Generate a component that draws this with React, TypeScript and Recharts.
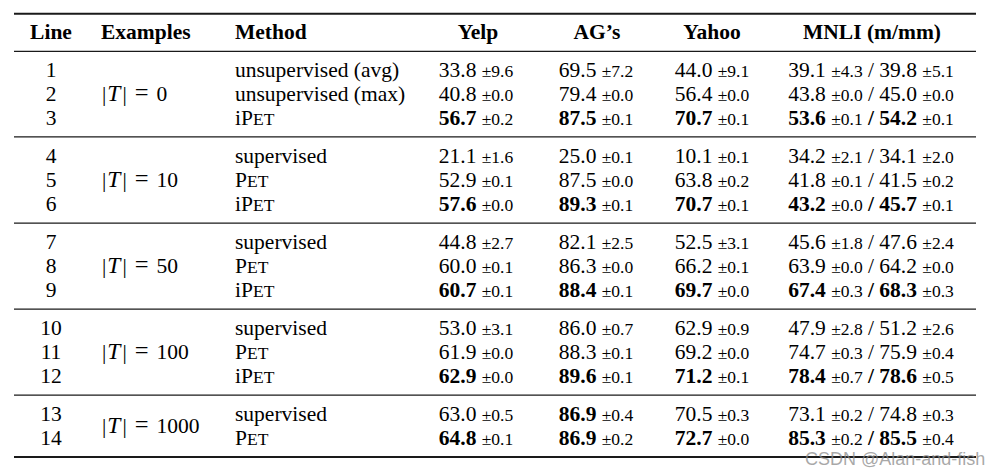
import React from 'react';
import { ScatterChart, Scatter, XAxis, YAxis, ReferenceLine } from 'recharts';

// ---------- data ----------
const lineNumbers = [1, 2, 3, 4, 5, 6, 7, 8, 9, 10, 11, 12, 13, 14];
const groupLabels = ['0', '10', '50', '100', '1000'];
const groupSizes = [3, 3, 3, 3, 2];
const methods = [
  'unsupervised (avg)', 'unsupervised (max)', 'iPET',
  'supervised', 'PET', 'iPET',
  'supervised', 'PET', 'iPET',
  'supervised', 'PET', 'iPET',
  'supervised', 'PET',
];
const headers = ['Line', 'Examples', 'Method', 'Yelp', 'AG\u2019s', 'Yahoo', 'MNLI (m/mm)'];

const yelpMean = [33.8, 40.8, 56.7, 21.1, 52.9, 57.6, 44.8, 60.0, 60.7, 53.0, 61.9, 62.9, 63.0, 64.8];
const yelpStd = [9.6, 0.0, 0.2, 1.6, 0.1, 0.0, 2.7, 0.1, 0.1, 3.1, 0.0, 0.0, 0.5, 0.1];
const agMean = [69.5, 79.4, 87.5, 25.0, 87.5, 89.3, 82.1, 86.3, 88.4, 86.0, 88.3, 89.6, 86.9, 86.9];
const agStd = [7.2, 0.0, 0.1, 0.1, 0.0, 0.1, 2.5, 0.0, 0.1, 0.7, 0.1, 0.1, 0.4, 0.2];
const yahooMean = [44.0, 56.4, 70.7, 10.1, 63.8, 70.7, 52.5, 66.2, 69.7, 62.9, 69.2, 71.2, 70.5, 72.7];
const yahooStd = [9.1, 0.0, 0.1, 0.1, 0.2, 0.1, 3.1, 0.1, 0.0, 0.9, 0.0, 0.1, 0.3, 0.0];
const mnliMMean = [39.1, 43.8, 53.6, 34.2, 41.8, 43.2, 45.6, 63.9, 67.4, 47.9, 74.7, 78.4, 73.1, 85.3];
const mnliMStd = [4.3, 0.0, 0.1, 2.1, 0.1, 0.0, 1.8, 0.0, 0.3, 2.8, 0.3, 0.7, 0.2, 0.2];
const mnliMMMean = [39.8, 45.0, 54.2, 34.1, 41.5, 45.7, 47.6, 64.2, 68.3, 51.2, 75.9, 78.6, 74.8, 85.5];
const mnliMMStd = [5.1, 0.0, 0.1, 2.0, 0.2, 0.1, 2.4, 0.0, 0.3, 2.6, 0.4, 0.5, 0.3, 0.4];

const yelpBest = [0, 0, 1, 0, 0, 1, 0, 0, 1, 0, 0, 1, 0, 1];
const agBest = [0, 0, 1, 0, 0, 1, 0, 0, 1, 0, 0, 1, 1, 1];
const yahooBest = [0, 0, 1, 0, 0, 1, 0, 0, 1, 0, 0, 1, 0, 1];
const mnliBest = [0, 0, 1, 0, 0, 1, 0, 0, 1, 0, 0, 1, 0, 1];

// ---------- layout ----------
const W = 999;
const H = 473;
const ROW_PITCH = 24.2;
const HEADER_Y_PX = 32;
const HEADER_TO_BODY = 1.557;
const GROUP_GAP = 0.557;
const Y_MIN = -HEADER_Y_PX / ROW_PITCH;
const Y_MAX = Y_MIN + H / ROW_PITCH;
const COL_X = { line: 51, examples: 102, method: 235, yelp: 476, ag: 596, yahoo: 712, mnli: 871 };
const RULE_X = [14, 976];
const FONT = '"Liberation Serif", "Times New Roman", serif';
const FS = 21.5;
const FS_SMALL = 17.5;
const BASE_SHIFT = 7;

const rowGroup: number[] = [];
groupSizes.forEach((n, g) => { for (let k = 0; k < n; k++) rowGroup.push(g); });
const rowPos = lineNumbers.map((_, i) => HEADER_TO_BODY + i + rowGroup[i] * GROUP_GAP);
const groupPos = groupSizes.map((_, g) => {
  const ps = rowPos.filter((_, i) => rowGroup[i] === g);
  return ps.reduce((a, b) => a + b, 0) / ps.length;
});
const groupLast = groupSizes.map((_, g) => {
  const ps = rowPos.filter((_, i) => rowGroup[i] === g);
  return ps[ps.length - 1];
});
const RULE_OFFSET = 0.78;
const rules = [
  { y: -0.75, w: 2 },
  { y: 0.8, w: 1.2 },
  ...groupLast.map((p, g) => ({ y: p + RULE_OFFSET, w: g === groupLast.length - 1 ? 2 : 1.2 })),
];

const f1 = (v: number) => v.toFixed(1);
const NB = '\u00A0';

// ---------- renderers ----------
const headerAnchor = ['middle', 'start', 'start', 'middle', 'middle', 'middle', 'middle'];
const headerX = [COL_X.line, COL_X.examples - 1, COL_X.method, 478, 597, COL_X.yahoo, 872];
const headerData = headers.map((h, i) => ({ x: headerX[i], y: 0, label: h, anchor: headerAnchor[i] }));

const HeaderShape = (p: any) => (
  <text x={p.cx} y={p.cy + BASE_SHIFT} textAnchor={p.payload.anchor} fontFamily={FONT} fontSize={FS} fontWeight="bold" fill="#000">
    {p.payload.label}
  </text>
);

const lineData = lineNumbers.map((n, i) => ({ x: COL_X.line, y: rowPos[i], n }));
const LineShape = (p: any) => (
  <text x={p.cx} y={p.cy + BASE_SHIFT} textAnchor="middle" fontFamily={FONT} fontSize={FS} fill="#000">{p.payload.n}</text>
);

const exData = groupLabels.map((l, g) => ({ x: COL_X.examples, y: groupPos[g], l }));
const ExShape = (p: any) => (
  <text x={p.cx} y={p.cy + BASE_SHIFT} textAnchor="start" fontFamily={FONT} fontSize={FS} fill="#000">
    <tspan>|</tspan>
    <tspan fontStyle="italic" fontSize={FS + 2} dx={1}>T</tspan>
    <tspan dx={2}>|</tspan>
    <tspan dx={8} fontSize={FS + 3}>=</tspan>
    <tspan dx={8}>{p.payload.l}</tspan>
  </text>
);

const methodData = methods.map((m, i) => ({ x: COL_X.method, y: rowPos[i], m }));
const MethodShape = (p: any) => {
  const m: string = p.payload.m;
  const idx = m.indexOf('PET');
  return (
    <text x={p.cx} y={p.cy + BASE_SHIFT} textAnchor="start" fontFamily={FONT} fontSize={FS} fill="#000">
      {idx < 0 ? m : (
        <>
          <tspan>{m.slice(0, idx)}P</tspan>
          <tspan fontSize={FS_SMALL}>ET</tspan>
        </>
      )}
    </text>
  );
};

const mkSingle = (x: number, mean: number[], std: number[], best: number[]) =>
  mean.map((v, i) => ({ x, y: rowPos[i], v, s: std[i], b: best[i] }));
const yelpData = mkSingle(COL_X.yelp, yelpMean, yelpStd, yelpBest);
const agData = mkSingle(COL_X.ag, agMean, agStd, agBest);
const yahooData = mkSingle(COL_X.yahoo, yahooMean, yahooStd, yahooBest);
const mnliData = mnliMMean.map((v, i) => ({
  x: COL_X.mnli, y: rowPos[i], v, s: mnliMStd[i], v2: mnliMMMean[i], s2: mnliMMStd[i], b: mnliBest[i],
}));

const ValueShape = (p: any) => {
  const d = p.payload;
  return (
    <text x={p.cx} y={p.cy + BASE_SHIFT} textAnchor="middle" fontFamily={FONT} fontSize={FS} fill="#000">
      <tspan fontWeight={d.b ? 'bold' : 'normal'}>{f1(d.v)}{NB}</tspan>
      <tspan fontSize={FS_SMALL}>±{f1(d.s)}</tspan>
    </text>
  );
};

const MnliShape = (p: any) => {
  const d = p.payload;
  const w = d.b ? 'bold' : 'normal';
  return (
    <text x={p.cx} y={p.cy + BASE_SHIFT} textAnchor="middle" fontFamily={FONT} fontSize={FS} fill="#000">
      <tspan fontWeight={w}>{f1(d.v)}{NB}</tspan>
      <tspan fontSize={FS_SMALL}>±{f1(d.s)}</tspan>
      <tspan fontWeight={w}>{NB}/{NB}</tspan>
      <tspan fontWeight={w}>{f1(d.v2)}{NB}</tspan>
      <tspan fontSize={FS_SMALL}>±{f1(d.s2)}</tspan>
    </text>
  );
};

export default function App() {
  return (
    <div style={{ position: 'absolute', left: 0, top: 0, width: W, height: H, background: '#fff' }}>
      <ScatterChart width={W} height={H} margin={{ top: 0, right: 0, bottom: 0, left: 0 }}>
        <XAxis type="number" dataKey="x" domain={[0, W]} hide allowDataOverflow />
        <YAxis type="number" dataKey="y" domain={[Y_MIN, Y_MAX]} reversed hide allowDataOverflow />
        {rules.map((r, i) => (
          <ReferenceLine
            key={i}
            segment={[{ x: RULE_X[0], y: r.y }, { x: RULE_X[1], y: r.y }]}
            stroke="#1a1a1a"
            strokeWidth={r.w}
          />
        ))}
        <Scatter data={headerData} shape={HeaderShape} isAnimationActive={false} />
        <Scatter data={lineData} shape={LineShape} isAnimationActive={false} />
        <Scatter data={exData} shape={ExShape} isAnimationActive={false} />
        <Scatter data={methodData} shape={MethodShape} isAnimationActive={false} />
        <Scatter data={yelpData} shape={ValueShape} isAnimationActive={false} />
        <Scatter data={agData} shape={ValueShape} isAnimationActive={false} />
        <Scatter data={yahooData} shape={ValueShape} isAnimationActive={false} />
        <Scatter data={mnliData} shape={MnliShape} isAnimationActive={false} />
      </ScatterChart>
      <div
        style={{
          position: 'absolute', left: 805, top: 449, fontFamily: '"Liberation Sans", Arial, sans-serif',
          fontSize: 18, color: 'rgba(140,140,140,0.75)', whiteSpace: 'nowrap', lineHeight: '20px',
        }}
      >
        CSDN @Alan-and-fish
      </div>
    </div>
  );
}
